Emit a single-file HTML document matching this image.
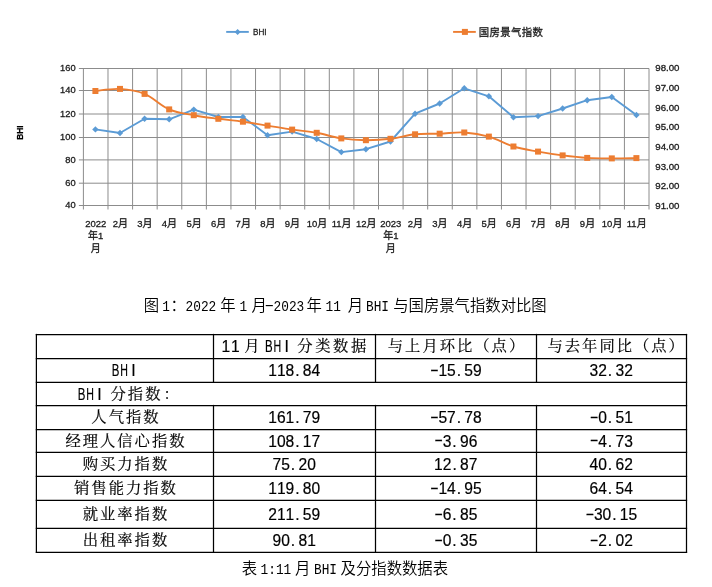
<!DOCTYPE html>
<html lang="zh-CN"><head><meta charset="utf-8"><title>BHI</title>
<style>html,body{margin:0;padding:0;background:#fff;}svg{display:block;}</style></head>
<body>
<svg width="712" height="587" viewBox="0 0 712 587">
<rect width="712" height="587" fill="#ffffff"/>
<g stroke="#8c8c8c" stroke-width="1" fill="none">
<line x1="78.90" y1="68.50" x2="649.00" y2="68.50"/>
<line x1="78.90" y1="90.50" x2="649.00" y2="90.50"/>
<line x1="78.90" y1="114.00" x2="649.00" y2="114.00"/>
<line x1="78.90" y1="137.50" x2="649.00" y2="137.50"/>
<line x1="78.90" y1="159.90" x2="649.00" y2="159.90"/>
<line x1="78.90" y1="183.20" x2="649.00" y2="183.20"/>
<line x1="78.90" y1="205.50" x2="649.00" y2="205.50"/>
<line x1="83.40" y1="68.50" x2="83.40" y2="209.50"/>
<line x1="107.99" y1="68.50" x2="107.99" y2="209.50"/>
<line x1="132.58" y1="68.50" x2="132.58" y2="209.50"/>
<line x1="157.17" y1="68.50" x2="157.17" y2="209.50"/>
<line x1="181.77" y1="68.50" x2="181.77" y2="209.50"/>
<line x1="206.36" y1="68.50" x2="206.36" y2="209.50"/>
<line x1="230.95" y1="68.50" x2="230.95" y2="209.50"/>
<line x1="255.54" y1="68.50" x2="255.54" y2="209.50"/>
<line x1="280.13" y1="68.50" x2="280.13" y2="209.50"/>
<line x1="304.72" y1="68.50" x2="304.72" y2="209.50"/>
<line x1="329.31" y1="68.50" x2="329.31" y2="209.50"/>
<line x1="353.90" y1="68.50" x2="353.90" y2="209.50"/>
<line x1="378.50" y1="68.50" x2="378.50" y2="209.50"/>
<line x1="403.09" y1="68.50" x2="403.09" y2="209.50"/>
<line x1="427.68" y1="68.50" x2="427.68" y2="209.50"/>
<line x1="452.27" y1="68.50" x2="452.27" y2="209.50"/>
<line x1="476.86" y1="68.50" x2="476.86" y2="209.50"/>
<line x1="501.45" y1="68.50" x2="501.45" y2="209.50"/>
<line x1="526.04" y1="68.50" x2="526.04" y2="209.50"/>
<line x1="550.63" y1="68.50" x2="550.63" y2="209.50"/>
<line x1="575.23" y1="68.50" x2="575.23" y2="209.50"/>
<line x1="599.82" y1="68.50" x2="599.82" y2="209.50"/>
<line x1="624.41" y1="68.50" x2="624.41" y2="209.50"/>
<line x1="649.00" y1="68.50" x2="649.00" y2="209.50"/>
</g>
<polyline fill="none" stroke="#5b9bd5" stroke-width="1.9" stroke-linejoin="round" points="95.40,129.40 119.99,133.00 144.58,118.80 169.17,119.30 193.76,109.60 218.35,117.00 242.94,117.00 267.53,135.20 292.13,131.60 316.72,139.00 341.31,152.10 365.90,149.20 390.49,141.50 415.08,113.70 439.67,103.50 464.27,88.30 488.86,96.30 513.45,117.20 538.04,116.10 562.63,108.50 587.22,100.20 611.81,97.00 636.40,115.00"/>
<path fill="#5b9bd5" d="M95.40,126.20 L98.60,129.40 L95.40,132.60 L92.20,129.40Z"/>
<path fill="#5b9bd5" d="M119.99,129.80 L123.19,133.00 L119.99,136.20 L116.79,133.00Z"/>
<path fill="#5b9bd5" d="M144.58,115.60 L147.78,118.80 L144.58,122.00 L141.38,118.80Z"/>
<path fill="#5b9bd5" d="M169.17,116.10 L172.37,119.30 L169.17,122.50 L165.97,119.30Z"/>
<path fill="#5b9bd5" d="M193.76,106.40 L196.96,109.60 L193.76,112.80 L190.56,109.60Z"/>
<path fill="#5b9bd5" d="M218.35,113.80 L221.55,117.00 L218.35,120.20 L215.15,117.00Z"/>
<path fill="#5b9bd5" d="M242.94,113.80 L246.14,117.00 L242.94,120.20 L239.74,117.00Z"/>
<path fill="#5b9bd5" d="M267.53,132.00 L270.73,135.20 L267.53,138.40 L264.33,135.20Z"/>
<path fill="#5b9bd5" d="M292.13,128.40 L295.33,131.60 L292.13,134.80 L288.93,131.60Z"/>
<path fill="#5b9bd5" d="M316.72,135.80 L319.92,139.00 L316.72,142.20 L313.52,139.00Z"/>
<path fill="#5b9bd5" d="M341.31,148.90 L344.51,152.10 L341.31,155.30 L338.11,152.10Z"/>
<path fill="#5b9bd5" d="M365.90,146.00 L369.10,149.20 L365.90,152.40 L362.70,149.20Z"/>
<path fill="#5b9bd5" d="M390.49,138.30 L393.69,141.50 L390.49,144.70 L387.29,141.50Z"/>
<path fill="#5b9bd5" d="M415.08,110.50 L418.28,113.70 L415.08,116.90 L411.88,113.70Z"/>
<path fill="#5b9bd5" d="M439.67,100.30 L442.87,103.50 L439.67,106.70 L436.47,103.50Z"/>
<path fill="#5b9bd5" d="M464.27,85.10 L467.47,88.30 L464.27,91.50 L461.07,88.30Z"/>
<path fill="#5b9bd5" d="M488.86,93.10 L492.06,96.30 L488.86,99.50 L485.66,96.30Z"/>
<path fill="#5b9bd5" d="M513.45,114.00 L516.65,117.20 L513.45,120.40 L510.25,117.20Z"/>
<path fill="#5b9bd5" d="M538.04,112.90 L541.24,116.10 L538.04,119.30 L534.84,116.10Z"/>
<path fill="#5b9bd5" d="M562.63,105.30 L565.83,108.50 L562.63,111.70 L559.43,108.50Z"/>
<path fill="#5b9bd5" d="M587.22,97.00 L590.42,100.20 L587.22,103.40 L584.02,100.20Z"/>
<path fill="#5b9bd5" d="M611.81,93.80 L615.01,97.00 L611.81,100.20 L608.61,97.00Z"/>
<path fill="#5b9bd5" d="M636.40,111.80 L639.60,115.00 L636.40,118.20 L633.20,115.00Z"/>
<path fill="none" stroke="#ed7d31" stroke-width="1.9" d="M95.40,91.00 C99.82,90.62 111.13,88.38 119.99,88.90 C128.84,89.42 135.73,90.21 144.58,93.90 C153.43,97.59 160.32,105.57 169.17,109.40 C178.02,113.23 184.91,113.51 193.76,115.20 C202.61,116.89 209.50,117.63 218.35,118.80 C227.21,119.97 234.09,120.48 242.94,121.70 C251.80,122.92 258.68,124.18 267.53,125.60 C276.39,127.02 283.27,128.30 292.13,129.60 C300.98,130.90 307.86,131.22 316.72,132.80 C325.57,134.38 332.46,137.07 341.31,138.40 C350.16,139.73 357.05,140.13 365.90,140.20 C374.75,140.27 381.64,139.86 390.49,138.80 C399.34,137.74 406.23,135.22 415.08,134.30 C423.94,133.38 430.82,134.02 439.67,133.70 C448.53,133.38 455.41,131.98 464.27,132.50 C473.12,133.02 480.00,134.08 488.86,136.60 C497.71,139.12 504.59,143.80 513.45,146.50 C522.30,149.20 529.19,150.00 538.04,151.60 C546.89,153.20 553.78,154.27 562.63,155.40 C571.48,156.53 578.37,157.36 587.22,157.90 C596.07,158.44 602.96,158.36 611.81,158.40 C620.67,158.44 631.98,158.15 636.40,158.10"/>
<rect fill="#ed7d31" x="92.40" y="88.00" width="6.0" height="6.0"/>
<rect fill="#ed7d31" x="116.99" y="85.90" width="6.0" height="6.0"/>
<rect fill="#ed7d31" x="141.58" y="90.90" width="6.0" height="6.0"/>
<rect fill="#ed7d31" x="166.17" y="106.40" width="6.0" height="6.0"/>
<rect fill="#ed7d31" x="190.76" y="112.20" width="6.0" height="6.0"/>
<rect fill="#ed7d31" x="215.35" y="115.80" width="6.0" height="6.0"/>
<rect fill="#ed7d31" x="239.94" y="118.70" width="6.0" height="6.0"/>
<rect fill="#ed7d31" x="264.53" y="122.60" width="6.0" height="6.0"/>
<rect fill="#ed7d31" x="289.13" y="126.60" width="6.0" height="6.0"/>
<rect fill="#ed7d31" x="313.72" y="129.80" width="6.0" height="6.0"/>
<rect fill="#ed7d31" x="338.31" y="135.40" width="6.0" height="6.0"/>
<rect fill="#ed7d31" x="362.90" y="137.20" width="6.0" height="6.0"/>
<rect fill="#ed7d31" x="387.49" y="135.80" width="6.0" height="6.0"/>
<rect fill="#ed7d31" x="412.08" y="131.30" width="6.0" height="6.0"/>
<rect fill="#ed7d31" x="436.67" y="130.70" width="6.0" height="6.0"/>
<rect fill="#ed7d31" x="461.27" y="129.50" width="6.0" height="6.0"/>
<rect fill="#ed7d31" x="485.86" y="133.60" width="6.0" height="6.0"/>
<rect fill="#ed7d31" x="510.45" y="143.50" width="6.0" height="6.0"/>
<rect fill="#ed7d31" x="535.04" y="148.60" width="6.0" height="6.0"/>
<rect fill="#ed7d31" x="559.63" y="152.40" width="6.0" height="6.0"/>
<rect fill="#ed7d31" x="584.22" y="154.90" width="6.0" height="6.0"/>
<rect fill="#ed7d31" x="608.81" y="155.40" width="6.0" height="6.0"/>
<rect fill="#ed7d31" x="633.40" y="155.10" width="6.0" height="6.0"/>
<line x1="226.2" y1="31.9" x2="248.8" y2="31.9" stroke="#5b9bd5" stroke-width="1.9"/>
<path fill="#5b9bd5" d="M237.6,28.9 L240.6,31.9 L237.6,34.9 L234.6,31.9Z"/>
<text x="253" y="35.4" font-family="'Liberation Sans',sans-serif" font-size="9.7" fill="#1c1c1c" stroke="#1c1c1c" stroke-width="0.3" textLength="13.6" lengthAdjust="spacingAndGlyphs">BHI</text>
<line x1="453.1" y1="31.9" x2="475.8" y2="31.9" stroke="#ed7d31" stroke-width="1.9"/>
<rect fill="#ed7d31" x="461.9" y="28.9" width="6" height="6"/>
<text x="478.8" y="35.6" font-family="'Liberation Sans','Noto Sans CJK SC',sans-serif" font-size="10.4" fill="#1c1c1c" stroke="#1c1c1c" stroke-width="0.3" textLength="64.2" lengthAdjust="spacing">国房景气指数</text>
<text transform="translate(23.1,132.7) rotate(-90)" text-anchor="middle" font-family="'Liberation Sans',sans-serif" font-weight="bold" font-size="9.3" fill="#000" stroke="#000" stroke-width="0.25" textLength="14.3" lengthAdjust="spacingAndGlyphs">BHI</text>
<g font-family="'Liberation Sans',sans-serif" font-size="9.3" fill="#1c1c1c" stroke="#1c1c1c" stroke-width="0.3" text-anchor="end">
<text x="75.6" y="71.30">160</text>
<text x="75.6" y="93.30">140</text>
<text x="75.6" y="116.80">120</text>
<text x="75.6" y="140.30">100</text>
<text x="75.6" y="162.70">80</text>
<text x="75.6" y="186.00">60</text>
<text x="75.6" y="208.30">40</text>
</g>
<g font-family="'Liberation Sans',sans-serif" font-size="9.3" fill="#1c1c1c" stroke="#1c1c1c" stroke-width="0.3">
<text x="655.3" y="71.30" textLength="24.2" lengthAdjust="spacingAndGlyphs">98.00</text>
<text x="655.3" y="90.96" textLength="24.2" lengthAdjust="spacingAndGlyphs">97.00</text>
<text x="655.3" y="110.62" textLength="24.2" lengthAdjust="spacingAndGlyphs">96.00</text>
<text x="655.3" y="130.28" textLength="24.2" lengthAdjust="spacingAndGlyphs">95.00</text>
<text x="655.3" y="149.94" textLength="24.2" lengthAdjust="spacingAndGlyphs">94.00</text>
<text x="655.3" y="169.60" textLength="24.2" lengthAdjust="spacingAndGlyphs">93.00</text>
<text x="655.3" y="189.26" textLength="24.2" lengthAdjust="spacingAndGlyphs">92.00</text>
<text x="655.3" y="208.92" textLength="24.2" lengthAdjust="spacingAndGlyphs">91.00</text>
</g>
<g font-family="'Liberation Sans','Noto Sans CJK SC',sans-serif" fill="#1c1c1c" stroke="#1c1c1c" stroke-width="0.3">
<text x="95.70" y="226.80" text-anchor="middle" font-size="9.5">2022</text>
<text x="95.70" y="239.20" text-anchor="middle"><tspan font-size="10">年</tspan><tspan font-size="9.5">1</tspan></text>
<text x="95.70" y="251.60" text-anchor="middle" font-size="10">月</text>
<text x="120.29" y="226.80" text-anchor="middle"><tspan font-size="9.5">2</tspan><tspan font-size="10">月</tspan></text>
<text x="144.88" y="226.80" text-anchor="middle"><tspan font-size="9.5">3</tspan><tspan font-size="10">月</tspan></text>
<text x="169.47" y="226.80" text-anchor="middle"><tspan font-size="9.5">4</tspan><tspan font-size="10">月</tspan></text>
<text x="194.06" y="226.80" text-anchor="middle"><tspan font-size="9.5">5</tspan><tspan font-size="10">月</tspan></text>
<text x="218.65" y="226.80" text-anchor="middle"><tspan font-size="9.5">6</tspan><tspan font-size="10">月</tspan></text>
<text x="243.24" y="226.80" text-anchor="middle"><tspan font-size="9.5">7</tspan><tspan font-size="10">月</tspan></text>
<text x="267.83" y="226.80" text-anchor="middle"><tspan font-size="9.5">8</tspan><tspan font-size="10">月</tspan></text>
<text x="292.43" y="226.80" text-anchor="middle"><tspan font-size="9.5">9</tspan><tspan font-size="10">月</tspan></text>
<text x="317.02" y="226.80" text-anchor="middle"><tspan font-size="9.5">10</tspan><tspan font-size="10">月</tspan></text>
<text x="341.61" y="226.80" text-anchor="middle"><tspan font-size="9.5">11</tspan><tspan font-size="10">月</tspan></text>
<text x="366.20" y="226.80" text-anchor="middle"><tspan font-size="9.5">12</tspan><tspan font-size="10">月</tspan></text>
<text x="390.79" y="226.80" text-anchor="middle" font-size="9.5">2023</text>
<text x="390.79" y="239.20" text-anchor="middle"><tspan font-size="10">年</tspan><tspan font-size="9.5">1</tspan></text>
<text x="390.79" y="251.60" text-anchor="middle" font-size="10">月</text>
<text x="415.38" y="226.80" text-anchor="middle"><tspan font-size="9.5">2</tspan><tspan font-size="10">月</tspan></text>
<text x="439.97" y="226.80" text-anchor="middle"><tspan font-size="9.5">3</tspan><tspan font-size="10">月</tspan></text>
<text x="464.57" y="226.80" text-anchor="middle"><tspan font-size="9.5">4</tspan><tspan font-size="10">月</tspan></text>
<text x="489.16" y="226.80" text-anchor="middle"><tspan font-size="9.5">5</tspan><tspan font-size="10">月</tspan></text>
<text x="513.75" y="226.80" text-anchor="middle"><tspan font-size="9.5">6</tspan><tspan font-size="10">月</tspan></text>
<text x="538.34" y="226.80" text-anchor="middle"><tspan font-size="9.5">7</tspan><tspan font-size="10">月</tspan></text>
<text x="562.93" y="226.80" text-anchor="middle"><tspan font-size="9.5">8</tspan><tspan font-size="10">月</tspan></text>
<text x="587.52" y="226.80" text-anchor="middle"><tspan font-size="9.5">9</tspan><tspan font-size="10">月</tspan></text>
<text x="612.11" y="226.80" text-anchor="middle"><tspan font-size="9.5">10</tspan><tspan font-size="10">月</tspan></text>
<text x="636.70" y="226.80" text-anchor="middle"><tspan font-size="9.5">11</tspan><tspan font-size="10">月</tspan></text>
</g>
<g font-family="'Liberation Mono','Noto Sans CJK SC',sans-serif" font-size="15.35" font-weight="350" fill="#000">
<text x="143.80" y="310.60" textLength="15.35" lengthAdjust="spacingAndGlyphs">图</text>
<text x="162.30" y="310.60" textLength="7.67" lengthAdjust="spacingAndGlyphs">1</text>
<text x="170.40" y="310.60" textLength="15.35" lengthAdjust="spacingAndGlyphs">：</text>
<text x="185.60" y="310.60" textLength="30.70" lengthAdjust="spacingAndGlyphs">2022</text>
<text x="220.20" y="310.60" textLength="15.35" lengthAdjust="spacingAndGlyphs">年</text>
<text x="239.40" y="310.60" textLength="7.67" lengthAdjust="spacingAndGlyphs">1</text>
<text x="251.60" y="310.60" textLength="15.35" lengthAdjust="spacingAndGlyphs">月</text>
<text transform="translate(269.33,310.20) scale(1.7,1)" text-anchor="middle">-</text>
<text x="273.60" y="310.60" textLength="30.70" lengthAdjust="spacingAndGlyphs">2023</text>
<text x="306.50" y="310.60" textLength="15.35" lengthAdjust="spacingAndGlyphs">年</text>
<text x="325.60" y="310.60" textLength="15.35" lengthAdjust="spacingAndGlyphs">11</text>
<text x="347.80" y="310.60" textLength="15.35" lengthAdjust="spacingAndGlyphs">月</text>
<text x="366.00" y="310.60" textLength="23.00" lengthAdjust="spacingAndGlyphs">BHI</text>
<text x="393.20" y="310.60" textLength="153.50" lengthAdjust="spacingAndGlyphs">与国房景气指数对比图</text>
<text x="241.70" y="574.20" textLength="15.35" lengthAdjust="spacingAndGlyphs">表</text>
<text x="260.60" y="574.20" textLength="30.70" lengthAdjust="spacingAndGlyphs">1:11</text>
<text x="295.00" y="574.20" textLength="15.35" lengthAdjust="spacingAndGlyphs">月</text>
<text x="314.00" y="574.20" textLength="23.00" lengthAdjust="spacingAndGlyphs">BHI</text>
<text x="340.60" y="574.20" textLength="107.45" lengthAdjust="spacingAndGlyphs">及分指数数据表</text>
</g>
<g stroke="#000" stroke-width="1.25" fill="none" stroke-linecap="square">
<line x1="36.4" y1="334.5" x2="686.5" y2="334.5"/>
<line x1="36.4" y1="358.5" x2="686.5" y2="358.5"/>
<line x1="36.4" y1="382.3" x2="686.5" y2="382.3"/>
<line x1="36.4" y1="405.5" x2="686.5" y2="405.5"/>
<line x1="36.4" y1="429.5" x2="686.5" y2="429.5"/>
<line x1="36.4" y1="452.4" x2="686.5" y2="452.4"/>
<line x1="36.4" y1="476.3" x2="686.5" y2="476.3"/>
<line x1="36.4" y1="500.3" x2="686.5" y2="500.3"/>
<line x1="36.4" y1="528.4" x2="686.5" y2="528.4"/>
<line x1="36.4" y1="552.3" x2="686.5" y2="552.3"/>
<line x1="36.4" y1="334.5" x2="36.4" y2="552.3"/>
<line x1="686.5" y1="334.5" x2="686.5" y2="552.3"/>
<line x1="213.5" y1="334.5" x2="213.5" y2="382.3"/>
<line x1="213.5" y1="405.5" x2="213.5" y2="552.3"/>
<line x1="375.5" y1="334.5" x2="375.5" y2="382.3"/>
<line x1="375.5" y1="405.5" x2="375.5" y2="552.3"/>
<line x1="536.5" y1="334.5" x2="536.5" y2="382.3"/>
<line x1="536.5" y1="405.5" x2="536.5" y2="552.3"/>
</g>
<g fill="#000" stroke="#000" stroke-width="0.18">
<text transform="translate(0,352.20) scale(1,1.11)" y="0" font-family="'Liberation Sans',sans-serif" font-size="15.6" x="221.4 231.0">11</text>
<text y="351.30" font-family="'Liberation Serif','Noto Serif CJK SC',serif" font-size="15.3" x="244.20">月</text>
<text transform="translate(0,352.20) scale(1,1.08)" y="0" font-family="'Liberation Sans',sans-serif" font-size="15.8"><tspan x="265.00" textLength="7.65" lengthAdjust="spacingAndGlyphs">B</tspan><tspan x="273.45" textLength="7.65" lengthAdjust="spacingAndGlyphs">H</tspan><tspan x="284.40">I</tspan></text>
<text y="351.30" font-family="'Liberation Serif','Noto Serif CJK SC',serif" font-size="15.3" x="297.30 315.20 333.10 351.00">分类数据</text>
<text y="351.30" font-family="'Liberation Serif','Noto Serif CJK SC',serif" font-size="15.3" x="387.80 405.10 422.40 439.70 457.00 474.30 491.60 508.90">与上月环比（点）</text>
<text y="351.30" font-family="'Liberation Serif','Noto Serif CJK SC',serif" font-size="15.3" x="547.50 564.80 582.10 599.40 616.70 634.00 651.30 668.60">与去年同比（点）</text>
<text transform="translate(0,376.10) scale(1,1.08)" y="0" font-family="'Liberation Sans',sans-serif" font-size="15.8"><tspan x="111.77" textLength="7.65" lengthAdjust="spacingAndGlyphs">B</tspan><tspan x="120.22" textLength="7.65" lengthAdjust="spacingAndGlyphs">H</tspan><tspan x="131.18">I</tspan></text>
<text transform="translate(0,376.10) scale(1,1.11)" y="0" font-family="'Liberation Sans',sans-serif" font-size="15.6" x="268.25 276.90 285.55 295.20 302.85 311.50">118.84</text>
<text transform="translate(434.38,374.90) scale(1.7,1)" text-anchor="middle" font-family="'Liberation Sans',sans-serif" font-size="15.6">-</text><text transform="translate(0,376.10) scale(1,1.11)" y="0" font-family="'Liberation Sans',sans-serif" font-size="15.6" x="438.40 447.05 456.70 464.35 473.00">15.59</text>
<text transform="translate(0,376.10) scale(1,1.11)" y="0" font-family="'Liberation Sans',sans-serif" font-size="15.6" x="589.58 598.23 607.88 615.53 624.18">32.32</text>
<text transform="translate(0,399.60) scale(1,1.08)" y="0" font-family="'Liberation Sans',sans-serif" font-size="15.8"><tspan x="77.80" textLength="7.65" lengthAdjust="spacingAndGlyphs">B</tspan><tspan x="86.25" textLength="7.65" lengthAdjust="spacingAndGlyphs">H</tspan><tspan x="97.20">I</tspan></text>
<text y="398.70" font-family="'Liberation Serif','Noto Serif CJK SC',serif" font-size="15.3" x="110.45 127.85 145.25">分指数</text>
<text y="398.70" font-family="'Liberation Serif','Noto Serif CJK SC',serif" font-size="15.3" x="163.60">：</text>
<text y="422.30" font-family="'Liberation Serif','Noto Serif CJK SC',serif" font-size="15.3" x="91.35 108.65 125.95 143.25">人气指数</text>
<text transform="translate(0,423.20) scale(1,1.11)" y="0" font-family="'Liberation Sans',sans-serif" font-size="15.6" x="268.25 276.90 285.55 295.20 302.85 311.50">161.79</text>
<text transform="translate(434.38,422.00) scale(1.7,1)" text-anchor="middle" font-family="'Liberation Sans',sans-serif" font-size="15.6">-</text><text transform="translate(0,423.20) scale(1,1.11)" y="0" font-family="'Liberation Sans',sans-serif" font-size="15.6" x="438.40 447.05 456.70 464.35 473.00">57.78</text>
<text transform="translate(594.20,422.00) scale(1.7,1)" text-anchor="middle" font-family="'Liberation Sans',sans-serif" font-size="15.6">-</text><text transform="translate(0,423.20) scale(1,1.11)" y="0" font-family="'Liberation Sans',sans-serif" font-size="15.6" x="598.23 607.88 615.52 624.18">0.51</text>
<text y="445.75" font-family="'Liberation Serif','Noto Serif CJK SC',serif" font-size="15.3" x="65.40 82.70 100.00 117.30 134.60 151.90 169.20">经理人信心指数</text>
<text transform="translate(0,446.65) scale(1,1.11)" y="0" font-family="'Liberation Sans',sans-serif" font-size="15.6" x="268.25 276.90 285.55 295.20 302.85 311.50">108.17</text>
<text transform="translate(438.70,445.45) scale(1.7,1)" text-anchor="middle" font-family="'Liberation Sans',sans-serif" font-size="15.6">-</text><text transform="translate(0,446.65) scale(1,1.11)" y="0" font-family="'Liberation Sans',sans-serif" font-size="15.6" x="442.72 452.37 460.02 468.67">3.96</text>
<text transform="translate(594.20,445.45) scale(1.7,1)" text-anchor="middle" font-family="'Liberation Sans',sans-serif" font-size="15.6">-</text><text transform="translate(0,446.65) scale(1,1.11)" y="0" font-family="'Liberation Sans',sans-serif" font-size="15.6" x="598.23 607.88 615.52 624.18">4.73</text>
<text y="469.15" font-family="'Liberation Serif','Noto Serif CJK SC',serif" font-size="15.3" x="82.70 100.00 117.30 134.60 151.90">购买力指数</text>
<text transform="translate(0,470.05) scale(1,1.11)" y="0" font-family="'Liberation Sans',sans-serif" font-size="15.6" x="272.57 281.22 290.88 298.52 307.18">75.20</text>
<text transform="translate(0,470.05) scale(1,1.11)" y="0" font-family="'Liberation Sans',sans-serif" font-size="15.6" x="434.07 442.72 452.38 460.02 468.68">12.87</text>
<text transform="translate(0,470.05) scale(1,1.11)" y="0" font-family="'Liberation Sans',sans-serif" font-size="15.6" x="589.58 598.23 607.88 615.53 624.18">40.62</text>
<text y="493.10" font-family="'Liberation Serif','Noto Serif CJK SC',serif" font-size="15.3" x="74.05 91.35 108.65 125.95 143.25 160.55">销售能力指数</text>
<text transform="translate(0,494.00) scale(1,1.11)" y="0" font-family="'Liberation Sans',sans-serif" font-size="15.6" x="268.25 276.90 285.55 295.20 302.85 311.50">119.80</text>
<text transform="translate(434.38,492.80) scale(1.7,1)" text-anchor="middle" font-family="'Liberation Sans',sans-serif" font-size="15.6">-</text><text transform="translate(0,494.00) scale(1,1.11)" y="0" font-family="'Liberation Sans',sans-serif" font-size="15.6" x="438.40 447.05 456.70 464.35 473.00">14.95</text>
<text transform="translate(0,494.00) scale(1,1.11)" y="0" font-family="'Liberation Sans',sans-serif" font-size="15.6" x="589.58 598.23 607.88 615.53 624.18">64.54</text>
<text y="519.15" font-family="'Liberation Serif','Noto Serif CJK SC',serif" font-size="15.3" x="82.70 100.00 117.30 134.60 151.90">就业率指数</text>
<text transform="translate(0,520.05) scale(1,1.11)" y="0" font-family="'Liberation Sans',sans-serif" font-size="15.6" x="268.25 276.90 285.55 295.20 302.85 311.50">211.59</text>
<text transform="translate(438.70,518.85) scale(1.7,1)" text-anchor="middle" font-family="'Liberation Sans',sans-serif" font-size="15.6">-</text><text transform="translate(0,520.05) scale(1,1.11)" y="0" font-family="'Liberation Sans',sans-serif" font-size="15.6" x="442.72 452.37 460.02 468.67">6.85</text>
<text transform="translate(589.88,518.85) scale(1.7,1)" text-anchor="middle" font-family="'Liberation Sans',sans-serif" font-size="15.6">-</text><text transform="translate(0,520.05) scale(1,1.11)" y="0" font-family="'Liberation Sans',sans-serif" font-size="15.6" x="593.90 602.55 612.20 619.85 628.50">30.15</text>
<text y="545.15" font-family="'Liberation Serif','Noto Serif CJK SC',serif" font-size="15.3" x="82.70 100.00 117.30 134.60 151.90">出租率指数</text>
<text transform="translate(0,546.05) scale(1,1.11)" y="0" font-family="'Liberation Sans',sans-serif" font-size="15.6" x="272.57 281.22 290.88 298.52 307.18">90.81</text>
<text transform="translate(438.70,544.85) scale(1.7,1)" text-anchor="middle" font-family="'Liberation Sans',sans-serif" font-size="15.6">-</text><text transform="translate(0,546.05) scale(1,1.11)" y="0" font-family="'Liberation Sans',sans-serif" font-size="15.6" x="442.72 452.37 460.02 468.67">0.35</text>
<text transform="translate(594.20,544.85) scale(1.7,1)" text-anchor="middle" font-family="'Liberation Sans',sans-serif" font-size="15.6">-</text><text transform="translate(0,546.05) scale(1,1.11)" y="0" font-family="'Liberation Sans',sans-serif" font-size="15.6" x="598.23 607.88 615.52 624.18">2.02</text>
</g>
</svg>
</body></html>
